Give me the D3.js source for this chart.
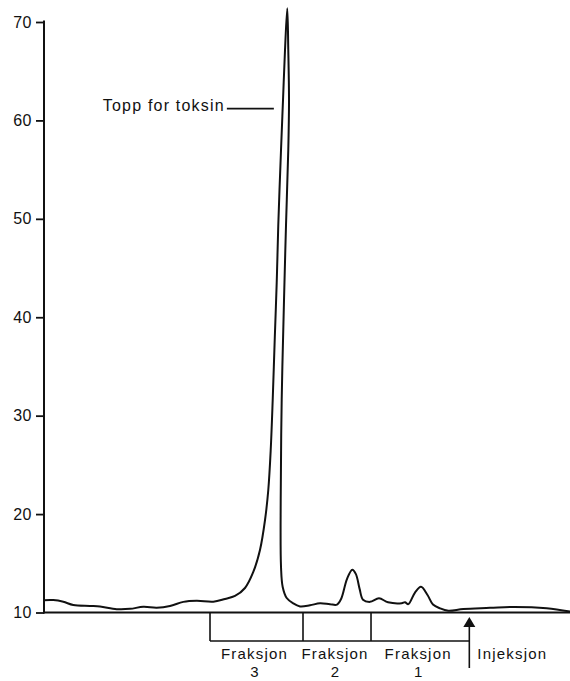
<!DOCTYPE html>
<html>
<head>
<meta charset="utf-8">
<script src="https://cdn.jsdelivr.net/npm/d3@7"></script>
<style>
  html, body { margin: 0; padding: 0; background: #fff; }
  svg { display: block; }
  text { font-family: "Liberation Sans", Arial, Helvetica, sans-serif; fill: #111; }
</style>
</head>
<body>
<svg id="chart" width="570" height="681"></svg>
<script>
// ---- Data ----
// elution position (arbitrary units, 0..100) and detector signal
const elution = [0, 1.77, 3.67, 5.57, 8.75, 10.65, 13.83, 16.35, 18.88, 21.43, 23.95, 26.48, 29.03, 32.19, 34.41,
  36.31, 38.21, 39.79, 41.06, 42.02, 42.64, 43.10, 43.48, 43.88, 44.24, 44.54, 45.06, 45.44, 45.82, 46.25,
  46.44, 46.58, 46.44, 46.01, 45.63, 45.19, 45.00, 45.06, 45.38, 46.14, 47.40, 48.67, 50.57, 52.47, 54.37,
  55.70, 56.50, 57.60, 58.61, 59.30, 60.00, 60.65, 61.98, 63.69, 65.40, 68.00, 68.63, 69.26, 70.53, 71.67, 72.91, 73.95,
  75.29, 76.87, 79.72, 84.79, 89.22, 95.57, 100];
const signal = [11.25, 11.26, 11.09, 10.76, 10.67, 10.61, 10.34, 10.37, 10.58, 10.49, 10.66, 11.08, 11.19, 11.10, 11.38,
  11.68, 12.49, 14.12, 16.35, 19.40, 22.45, 26.51, 31.60, 38.00, 43.49, 49.38, 57.00, 62.08, 67.17, 71.40,
  67.17, 62.08, 57.00, 49.38, 41.76, 31.60, 21.43, 14.62, 12.59, 11.47, 10.92, 10.62, 10.73, 10.94, 10.84,
  10.80, 11.40, 13.40, 14.35, 13.90, 12.40, 11.30, 11.08, 11.44, 11.04, 10.95, 11.05, 10.85, 12.02, 12.61, 11.78, 10.81,
  10.42, 10.18, 10.36, 10.47, 10.57, 10.44, 10.10];

const yTicks = [10, 20, 30, 40, 50, 60, 70];

// fraction boundaries (elution units) and labels
const fractionEdges = [31.56, 49.24, 62.17, 80.86];
const fractionNames = ["3", "2", "1"];
const fractionWord = "Fraksjon";
const injectionAt = 80.86;
const injectionLabel = "Injeksjon";
const peakLabel = "Topp for toksin";
const peakLabelAt = { x: 43.7, y: 61.2 };

// ---- Layout ----
const svg = d3.select("#chart");
const x = d3.scaleLinear().domain([0, 100]).range([44, 570]);
const y = d3.scaleLinear().domain([10, 70]).range([612.5, 22]);

const FONT = '"Liberation Sans", Arial, Helvetica, sans-serif';

// Y axis
const yAxis = d3.axisLeft(y).tickValues(yTicks).tickSize(8).tickSizeOuter(0).tickPadding(4);
const gy = svg.append("g").attr("transform", `translate(${x(0)},0)`).call(yAxis);
gy.select(".domain").attr("stroke", "#111").attr("stroke-width", 2);
gy.selectAll(".tick line").attr("stroke", "#111").attr("stroke-width", 1.8);
gy.selectAll(".tick text")
  .attr("font-size", 16).attr("font-family", FONT).attr("fill", "#111")
  .attr("letter-spacing", "0.5px");
gy.select(".domain").attr("d", `M0,${y(70) - 1.5}V${y(10) + 1}`);

// X baseline
svg.append("line")
  .attr("x1", x(0) - 1).attr("x2", x(100))
  .attr("y1", y(10)).attr("y2", y(10))
  .attr("stroke", "#111").attr("stroke-width", 2);

// Chromatogram curve
const pts = elution.map((e, i) => [e, signal[i]]);
const line = d3.line().x(d => x(d[0])).y(d => y(d[1])).curve(d3.curveCatmullRom.alpha(0.5));
svg.append("path")
  .attr("d", line(pts))
  .attr("fill", "none").attr("stroke", "#111").attr("stroke-width", 2)
  .attr("stroke-linejoin", "round");

// Peak annotation
const ax = x(peakLabelAt.x), ay = y(peakLabelAt.y);
svg.append("line")
  .attr("x1", ax - 47).attr("x2", ax).attr("y1", ay).attr("y2", ay)
  .attr("stroke", "#111").attr("stroke-width", 1.6);
svg.append("text")
  .attr("x", ax - 49).attr("y", ay + 2)
  .attr("text-anchor", "end").attr("font-size", 16).attr("letter-spacing", "1.2px")
  .text(peakLabel);

// Fraction brackets
const bracketY = y(10) + 28.5;
const gb = svg.append("g").attr("stroke", "#111").attr("stroke-width", 1.6).attr("fill", "none");
gb.append("line")
  .attr("x1", x(fractionEdges[0])).attr("x2", x(fractionEdges[fractionEdges.length - 1]))
  .attr("y1", bracketY).attr("y2", bracketY);
fractionEdges.slice(0, -1).forEach(e => {
  gb.append("line").attr("x1", x(e)).attr("x2", x(e)).attr("y1", y(10)).attr("y2", bracketY);
});

fractionNames.forEach((n, i) => {
  const cx = (x(fractionEdges[i]) + x(fractionEdges[i + 1])) / 2 - 2;
  svg.append("text").attr("x", cx).attr("y", bracketY + 18).attr("text-anchor", "middle")
    .attr("font-size", 15).attr("letter-spacing", "1.2px").text(fractionWord);
  svg.append("text").attr("x", cx).attr("y", bracketY + 36).attr("text-anchor", "middle")
    .attr("font-size", 15).text(n);
});

// Injection arrow
const ix = x(injectionAt);
svg.append("line")
  .attr("x1", ix).attr("x2", ix).attr("y1", y(10) + 13).attr("y2", bracketY + 27)
  .attr("stroke", "#111").attr("stroke-width", 1.6);
svg.append("path")
  .attr("d", `M${ix},${y(10) + 4.5}L${ix - 6},${y(10) + 14.5}L${ix + 6},${y(10) + 14.5}Z`)
  .attr("fill", "#111");
svg.append("text")
  .attr("x", ix + 8).attr("y", bracketY + 18)
  .attr("font-size", 15).attr("letter-spacing", "1.2px").text(injectionLabel);
</script>
</body>
</html>
